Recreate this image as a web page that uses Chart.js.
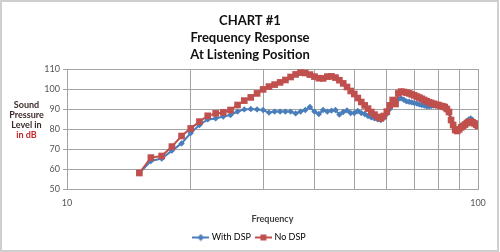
<!DOCTYPE html>
<html>
<head>
<meta charset="utf-8">
<script src="https://cdn.jsdelivr.net/npm/chart.js@4"></script>
<style>
  html, body { margin: 0; padding: 0; background: #fff; }
  #wrap { width: 500px; height: 252px; }
</style>
</head>
<body>
<div id="wrap"><canvas id="freqChart" width="500" height="252"></canvas></div>
<script>
// frequencies (Hz), one reading per Hz
const freqHz = [15, 16, 17, 18, 19, 20, 21, 22, 23, 24, 25, 26, 27, 28, 29, 30,
  31, 32, 33, 34, 35, 36, 37, 38, 39, 40, 41, 42, 43, 44, 45, 46, 47, 48, 49, 50,
  51, 52, 53, 54, 55, 56, 57, 58, 59, 60, 61, 62, 63, 64, 65, 66, 67, 68, 69, 70,
  71, 72, 73, 74, 75, 76, 77, 78, 79, 80, 81, 82, 83, 84, 85, 86, 87, 88, 89, 90,
  91, 92, 93, 94, 95, 96, 97, 98, 99, 100];

const withDsp = [58, 64, 65.2, 69.2, 72.8, 78, 82, 84.8, 85.3, 86.2, 87, 88.7, 89.8, 90, 89.8, 89.5,
  88.2, 88.7, 88.7, 88.7, 88.7, 87.8, 88.7, 89.5, 91, 88.7, 87.5, 89.5, 88.7, 89.2, 89.5, 87.2, 88.5, 89.3, 88, 88,
  89, 88, 87.5, 86.5, 85.8, 85.3, 84.8, 84.5, 85.5, 87.5, 90, 92.5, 93.5, 95, 95.3, 94.6, 93.8, 93.6, 93.3, 93,
  92.7, 92.3, 92, 91.7, 91.3, 91.3, 91.5, 91.7, 91.6, 91.4, 91.2, 90.8, 90.4, 89.5, 88, 85, 82, 79.8, 79.2, 80.5,
  81.5, 82.3, 83, 84, 84.8, 85.3, 84.5, 83.3, 82.4, 81.5];

const noDsp = [58, 65.7, 66.5, 71.2, 76.5, 80.3, 83.7, 86.6, 87.8, 88.3, 89.5, 92, 94.2, 95.8, 97.8, 99.8,
  101.2, 102.2, 103.3, 104.5, 106, 107.3, 108.2, 108, 107.2, 106.2, 105.4, 105.3, 106.2, 106.3, 105.7, 104.4, 102.8, 101, 99, 97.5,
  95.5, 93.5, 91.8, 90.2, 88.5, 87.2, 86, 85.3, 86.5, 88.7, 91.8, 94.5, 92.5, 97.8, 98.7, 98.5, 98.2, 97.8, 97.3, 96.8,
  96.2, 95.7, 95.1, 94.5, 93.9, 93.4, 93, 92.6, 92.2, 92, 91.6, 91.3, 91, 90, 88.5, 84.5, 82, 79.5, 79, 79.8,
  80.8, 81.5, 82.2, 83, 83.5, 83.7, 83.3, 82.8, 82.2, 81.5];

const seriesNames = ['With DSP', 'No DSP'];
const titleLines = ['CHART #1', 'Frequency Response', 'At Listening Position'];
const yTitleLines = ['Sound', 'Pressure', 'Level in', 'in dB'];
const xGridLines = [10, 20, 30, 40, 50, 60, 70, 80, 90, 100];
const xTickLabels = [10, 100];
const yTicks = [50, 60, 70, 80, 90, 100, 110];

const FONT = 'Lato';
const BLUE = '#4a7ebb';
const RED = '#c0504d';
const GRID = '#a3a3a3';

// little legend icons: a line with the marker on it, like Excel does
function legendIcon(color, shape) {
    const c = document.createElement('canvas');
    c.width = 17;
    c.height = 8;
    const g = c.getContext('2d');
    g.strokeStyle = color;
    g.lineWidth = 2;
    g.beginPath();
    g.moveTo(0, 4);
    g.lineTo(17, 4);
    g.stroke();
    g.fillStyle = color;
    if (shape === 'rect') {
        g.fillRect(5.5, 1, 6, 6);
    } else {
        g.beginPath();
        g.moveTo(8.5, 0.5);
        g.lineTo(12, 4);
        g.lineTo(8.5, 7.5);
        g.lineTo(5, 4);
        g.closePath();
        g.fill();
    }
    return c;
}
const icons = [legendIcon(BLUE, 'diamond'), legendIcon(RED, 'rect')];

// y axis title is horizontal and two-coloured, so it is drawn here
const extras = {
    id: 'extras',
    beforeDraw(chart) {
        const ctx = chart.ctx;
        ctx.save();
        ctx.strokeStyle = '#cfcfcf';
        ctx.lineWidth = 2;
        ctx.strokeRect(1, 1, 497, 250);
        ctx.restore();
    },
    afterDraw(chart) {
        const ctx = chart.ctx;
        ctx.save();
        ctx.font = 'bold 9px ' + FONT;
        ctx.textAlign = 'center';
        ctx.textBaseline = 'middle';
        yTitleLines.forEach((line, i) => {
            ctx.fillStyle = i === yTitleLines.length - 1 ? '#c0282b' : '#3a2a2a';
            ctx.fillText(line, 26.5, 105 + i * 10);
        });
        ctx.restore();
    }
};

new Chart(document.getElementById('freqChart'), {
    type: 'line',
    data: {
        datasets: [{
            label: seriesNames[0],
            data: freqHz.map((f, i) => ({ x: f, y: withDsp[i] })),
            borderColor: BLUE,
            backgroundColor: BLUE,
            borderWidth: 2,
            pointStyle: 'rectRot',
            pointRadius: 3.2,
            pointBorderWidth: 0,
            order: 1
        }, {
            label: seriesNames[1],
            data: freqHz.map((f, i) => ({ x: f, y: noDsp[i] })),
            borderColor: RED,
            backgroundColor: RED,
            borderWidth: 2,
            pointStyle: 'rect',
            pointRadius: 4.7,
            pointBorderWidth: 0,
            order: 0
        }]
    },
    options: {
        responsive: false,
        animation: false,
        layout: { padding: { left: 22, right: 22, top: 0, bottom: 0 } },
        scales: {
            x: {
                type: 'logarithmic',
                min: 10,
                max: 100,
                afterBuildTicks: s => { s.ticks = xGridLines.map(v => ({ value: v })); },
                afterFit: s => { s.height = 38; },
                ticks: {
                    autoSkip: false,
                    maxRotation: 0,
                    padding: 9,
                    color: '#555',
                    font: { family: FONT, size: 9 },
                    callback: v => xTickLabels.includes(v) ? String(v) : ''
                },
                grid: { color: GRID, drawTicks: false },
                border: { color: GRID },
                title: {
                    display: true,
                    text: 'Frequency',
                    color: '#404040',
                    font: { family: FONT, size: 9, weight: 'bold' },
                    padding: { top: 0, bottom: 3 }
                }
            },
            y: {
                min: 50,
                max: 110,
                afterBuildTicks: s => { s.ticks = yTicks.map(v => ({ value: v })); },
                afterFit: s => { s.width = 45; },
                ticks: {
                    padding: 3,
                    color: '#555',
                    font: { family: FONT, size: 9 }
                },
                grid: { color: GRID, tickLength: 4 },
                border: { color: GRID }
            }
        },
        plugins: {
            title: {
                display: true,
                text: titleLines,
                color: '#111',
                font: { family: FONT, size: 13, weight: 'bold', lineHeight: '17px' },
                padding: { top: 12, bottom: 6 }
            },
            legend: {
                position: 'bottom',
                labels: {
                    usePointStyle: true,
                    pointStyleWidth: 13,
                    boxHeight: 8,
                    padding: 6,
                    color: '#505050',
                    font: { family: FONT, size: 9 },
                    generateLabels: chart => chart.data.datasets.map((ds, i) => ({
                        text: ds.label,
                        pointStyle: icons[i],
                        fillStyle: ds.borderColor,
                        strokeStyle: ds.borderColor,
                        lineWidth: 0,
                        hidden: false,
                        datasetIndex: i
                    }))
                }
            },
            tooltip: { enabled: false }
        }
    },
    plugins: [extras]
});
</script>
</body>
</html>
